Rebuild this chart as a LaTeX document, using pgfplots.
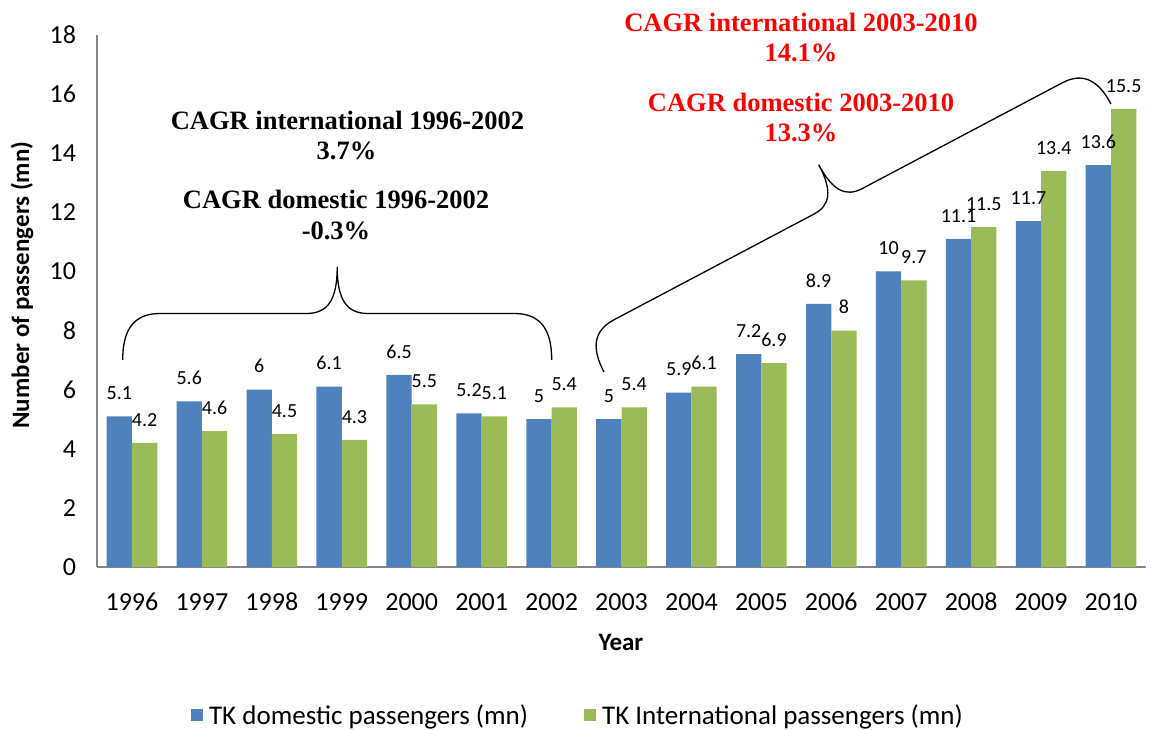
\documentclass[border=0pt]{standalone}
\usepackage{fontspec}
\setmainfont{Carlito}
\newfontfamily\tnr{Liberation Serif}
\usepackage{pgfplots}
\pgfplotsset{compat=1.18}
\definecolor{cblue}{HTML}{4F81BD}
\definecolor{cgreen}{HTML}{9BBB59}
\definecolor{axgray}{HTML}{868686}
\newcommand{\bracepath}[2]{%
 (0,0) .. controls (0,{0.3*#2}) and ({0.1*#2},{0.5*#2}) .. ({0.4*#2},{0.5*#2})
 -- ({0.5*#1-0.33*#2},{0.5*#2}) .. controls ({0.5*#1-0.1*#2},{0.5*#2}) and ({0.5*#1},{0.65*#2}) .. ({0.5*#1},#2)
 .. controls ({0.5*#1},{0.65*#2}) and ({0.5*#1+0.1*#2},{0.5*#2}) .. ({0.5*#1+0.33*#2},{0.5*#2})
 -- ({#1-0.4*#2},{0.5*#2}) .. controls ({#1-0.1*#2},{0.5*#2}) and (#1,{0.3*#2}) .. (#1,0)}
\begin{document}
\begin{tikzpicture}
\useasboundingbox (0,0) rectangle (1151pt,729pt);
\begin{axis}[
  at={(97pt,162pt)}, anchor=south west,
  scale only axis, width=1049pt, height=532pt,
  ybar=0pt, bar width=25.3pt,
  xmin=-0.5, xmax=14.5, ymin=0, ymax=18,
  ytick={0,2,...,18},
  xtick={0,...,14},
  xticklabels={1996,1997,1998,1999,2000,2001,2002,2003,2004,2005,2006,2007,2008,2009,2010},
  axis x line*=bottom, axis y line*=left,
  axis line style={draw=axgray, line width=1.2pt},
  major tick length=0pt,
  /pgf/number format/assume math mode=true,
  tick label style={font=\fontsize{26}{30}\selectfont},
  xticklabel style={anchor=base, yshift=-43pt},
  yticklabel style={xshift=-17.5pt},
  clip=false,
  every axis y label/.style={at={(axis description cs:-0.0715,0.53)}, rotate=90, anchor=center},
  every axis x label/.style={at={(axis description cs:0.4995,-0.141)}, anchor=center},
  ylabel={\bfseries Number of passengers (mn)},
  xlabel={\bfseries Year},
  label style={font=\fontsize{25}{30}\selectfont\bfseries},
  nodes near coords,
  every node near coord/.append style={anchor=south, inner sep=0pt, yshift=16.5pt, font=\fontsize{20}{22}\selectfont, text=black},
  legend columns=2,
  legend style={at={(rel axis cs:0.4585,-0.278)}, anchor=center, draw=none,
    font=\fontsize{27}{30}\selectfont,
    /tikz/every even column/.append style={column sep=54pt}},
  legend image code/.code={\fill[#1] (0pt,-6pt) rectangle (12pt,6pt); \path (16pt,0pt);},
]
\addplot[fill=cblue, draw=none] coordinates {
(0,5.1) (1,5.6) (2,6) (3,6.1) (4,6.5) (5,5.2) (6,5) (7,5) (8,5.9) (9,7.2) (10,8.9) (11,10) (12,11.1) (13,11.7) (14,13.6)};
\addplot[fill=cgreen, draw=none] coordinates {
(0,4.2) (1,4.6) (2,4.5) (3,4.3) (4,5.5) (5,5.1) (6,5.4) (7,5.4) (8,6.1) (9,6.9) (10,8) (11,9.7) (12,11.5) (13,13.4) (14,15.5)};
\legend{TK domestic passengers (mn), TK International passengers (mn)}
\end{axis}
% braces
\begin{scope}[x=1pt,y=1pt,shift={(122.7pt,369pt)}]
\draw[line width=1.3pt] \bracepath{429}{93};
\end{scope}
\begin{scope}[x=1pt,y=1pt,shift={(604pt,357pt)},rotate=27.86]
\draw[line width=1.3pt] \bracepath{573.5}{83};
\end{scope}
% annotations
\begin{scope}[every node/.style={anchor=base, inner sep=0pt, font=\tnr\bfseries\fontsize{26.5}{30}\selectfont}]
\node at (347.5pt,599.7pt) {CAGR international 1996-2002};
\node at (346.5pt,569pt) {3.7\%};
\node at (336pt,520.7pt) {CAGR domestic 1996-2002};
\node at (336pt,489pt) {-0.3\%};
\node[text=red] at (801pt,697.3pt) {CAGR international 2003-2010};
\node[text=red] at (801pt,667.3pt) {14.1\%};
\node[text=red] at (801pt,617.3pt) {CAGR domestic 2003-2010};
\node[text=red] at (801pt,587.3pt) {13.3\%};
\end{scope}
\end{tikzpicture}
\end{document}
